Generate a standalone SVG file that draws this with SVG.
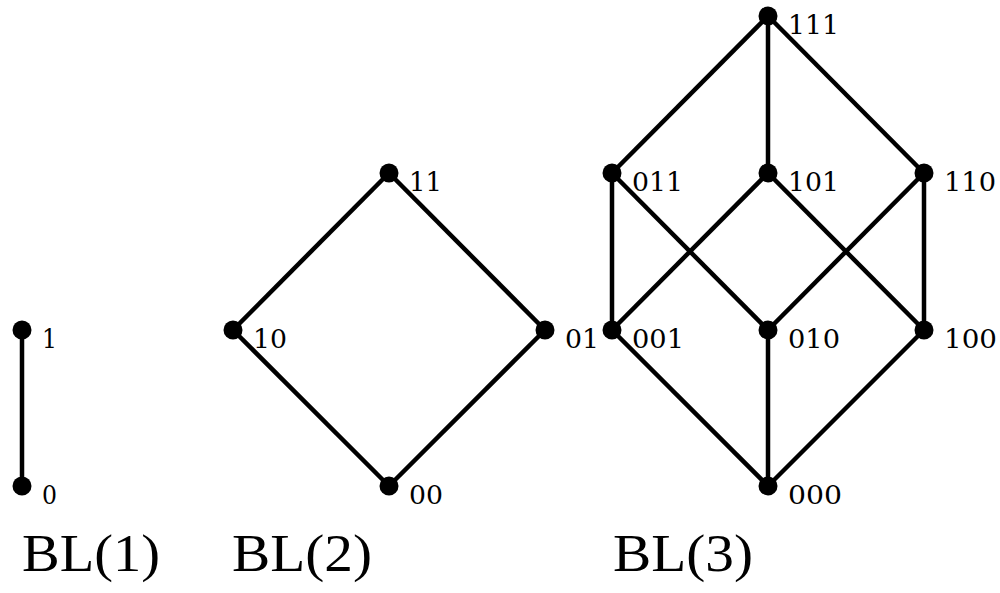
<svg xmlns="http://www.w3.org/2000/svg" width="1000" height="593" viewBox="0 0 1000 593">
<style>
.e{stroke:#000;stroke-width:4.5;fill:none}
.n{fill:#000}
.l{font-family:"DejaVu Serif","Liberation Serif",serif;font-size:26px;fill:#000}
.t{font-family:"Liberation Serif","DejaVu Serif",serif;font-size:52px;fill:#000}
</style>
<rect width="1000" height="593" fill="#fff"/>
<g id="connectors">
<line class="e" x1="22" y1="330" x2="22" y2="486"/>
<line class="e" x1="389" y1="173" x2="233" y2="330"/>
<line class="e" x1="389" y1="173" x2="545" y2="330"/>
<line class="e" x1="233" y1="330" x2="389" y2="486"/>
<line class="e" x1="545" y1="330" x2="389" y2="486"/>
<line class="e" x1="768" y1="16" x2="612" y2="173"/>
<line class="e" x1="768" y1="16" x2="768" y2="173"/>
<line class="e" x1="768" y1="16" x2="924" y2="173"/>
<line class="e" x1="612" y1="173" x2="612" y2="330"/>
<line class="e" x1="612" y1="173" x2="768" y2="330"/>
<line class="e" x1="768" y1="173" x2="612" y2="330"/>
<line class="e" x1="768" y1="173" x2="924" y2="330"/>
<line class="e" x1="924" y1="173" x2="768" y2="330"/>
<line class="e" x1="924" y1="173" x2="924" y2="330"/>
<line class="e" x1="612" y1="330" x2="768" y2="486"/>
<line class="e" x1="768" y1="330" x2="768" y2="486"/>
<line class="e" x1="924" y1="330" x2="768" y2="486"/>
</g>
<g id="bl1-1"><circle class="n" cx="22" cy="330" r="9.5"/><text class="l" x="42" y="348" textLength="15" lengthAdjust="spacingAndGlyphs">1</text></g>
<g id="bl1-0"><circle class="n" cx="22" cy="486" r="9.5"/><text class="l" x="42" y="504" textLength="15" lengthAdjust="spacingAndGlyphs">0</text></g>
<g id="bl2-11"><circle class="n" cx="389" cy="173" r="9.5"/><text class="l" x="409" y="191" textLength="33" lengthAdjust="spacingAndGlyphs">11</text></g>
<g id="bl2-10"><circle class="n" cx="233" cy="330" r="9.5"/><text class="l" x="253" y="348" textLength="34" lengthAdjust="spacingAndGlyphs">10</text></g>
<g id="bl2-01"><circle class="n" cx="545" cy="330" r="9.5"/><text class="l" x="565" y="348" textLength="34" lengthAdjust="spacingAndGlyphs">01</text></g>
<g id="bl2-00"><circle class="n" cx="389" cy="486" r="9.5"/><text class="l" x="409" y="504" textLength="34" lengthAdjust="spacingAndGlyphs">00</text></g>
<g id="bl3-111"><circle class="n" cx="768" cy="16" r="9.5"/><text class="l" x="788" y="34" textLength="51" lengthAdjust="spacingAndGlyphs">111</text></g>
<g id="bl3-011"><circle class="n" cx="612" cy="173" r="9.5"/><text class="l" x="632" y="191" textLength="51" lengthAdjust="spacingAndGlyphs">011</text></g>
<g id="bl3-101"><circle class="n" cx="768" cy="173" r="9.5"/><text class="l" x="788" y="191" textLength="51" lengthAdjust="spacingAndGlyphs">101</text></g>
<g id="bl3-110"><circle class="n" cx="924" cy="173" r="9.5"/><text class="l" x="944" y="191" textLength="52" lengthAdjust="spacingAndGlyphs">110</text></g>
<g id="bl3-001"><circle class="n" cx="612" cy="330" r="9.5"/><text class="l" x="632" y="348" textLength="52" lengthAdjust="spacingAndGlyphs">001</text></g>
<g id="bl3-010"><circle class="n" cx="768" cy="330" r="9.5"/><text class="l" x="788" y="348" textLength="52" lengthAdjust="spacingAndGlyphs">010</text></g>
<g id="bl3-100"><circle class="n" cx="924" cy="330" r="9.5"/><text class="l" x="944" y="348" textLength="53" lengthAdjust="spacingAndGlyphs">100</text></g>
<g id="bl3-000"><circle class="n" cx="768" cy="486" r="9.5"/><text class="l" x="788" y="504" textLength="54" lengthAdjust="spacingAndGlyphs">000</text></g>
<g id="titles">
<text class="t" x="22" y="571" textLength="138" lengthAdjust="spacingAndGlyphs">BL(1)</text>
<text class="t" x="232" y="571" textLength="140" lengthAdjust="spacingAndGlyphs">BL(2)</text>
<text class="t" x="613" y="571" textLength="140" lengthAdjust="spacingAndGlyphs">BL(3)</text>
</g>
</svg>
